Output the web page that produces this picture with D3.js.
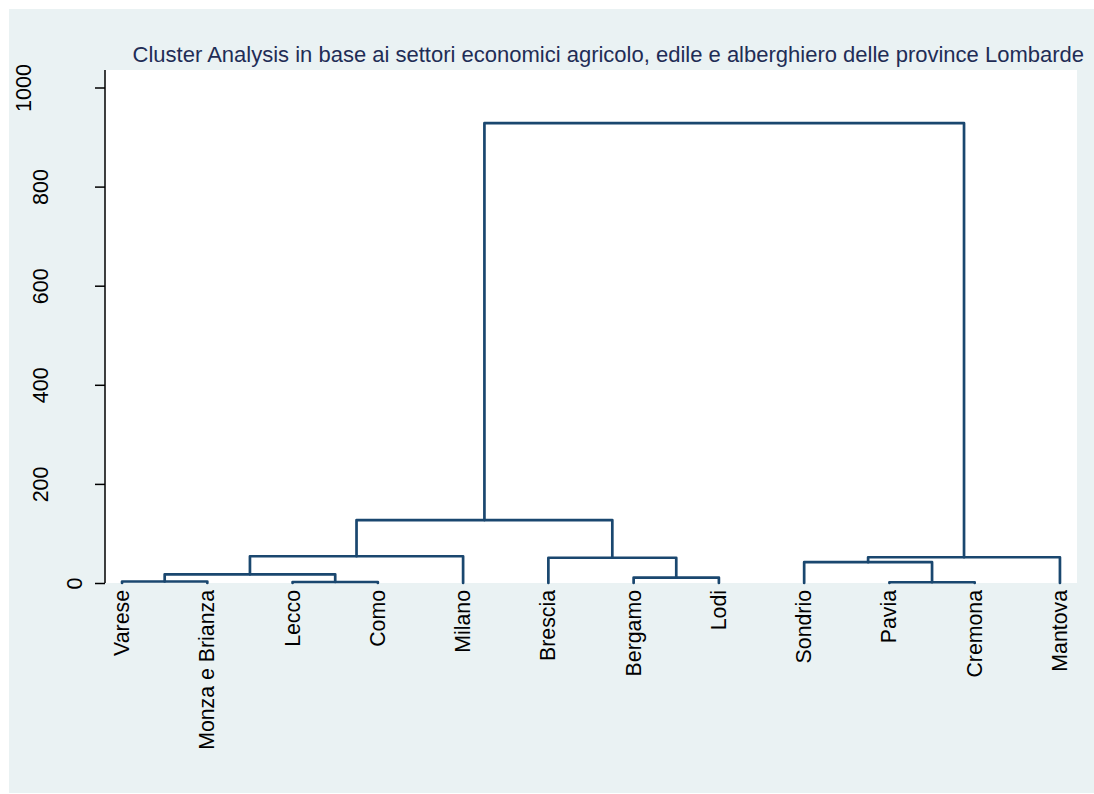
<!DOCTYPE html>
<html>
<head>
<meta charset="utf-8">
<script src="https://cdn.jsdelivr.net/npm/d3@7"></script>
<style>
  body { margin: 0; background: #fff; }
  text { font-family: "Liberation Sans", Arial, sans-serif; }
</style>
</head>
<body>
<div id="chart"></div>
<script>
// leaves in dendrogram order
const provinces = ["Varese", "Monza e Brianza", "Lecco", "Como", "Milano", "Brescia",
                   "Bergamo", "Lodi", "Sondrio", "Pavia", "Cremona", "Mantova"]

// merges: [left, right, new node id, dissimilarity]
const merges = [
  ["Pavia", "Cremona", "n1", 1.5],
  ["Lecco", "Como", "n2", 2],
  ["Varese", "Monza e Brianza", "n3", 3],
  ["Bergamo", "Lodi", "n4", 11],
  ["n3", "n2", "n5", 17.5],
  ["Sondrio", "n1", "n6", 42],
  ["Brescia", "n4", "n7", 51],
  ["n6", "Mantova", "n8", 52],
  ["n5", "Milano", "n9", 54],
  ["n9", "n7", "n10", 127],
  ["n10", "n8", "n11", 928]
]

const yTicks = [0, 200, 400, 600, 800, 1000]
const title = "Cluster Analysis in base ai settori economici agricolo, edile e alberghiero delle province Lombarde"

const W = 1094, H = 794
const plot = { left: 105, right: 1077, top: 70, bottom: 583 }
const lineColor = "#1a476f"

const svg = d3.select("#chart").append("svg")
    .attr("width", W)
    .attr("height", H)

//stata-ish background
svg.append("rect")
    .attr("x", 9).attr("y", 9)
    .attr("width", W - 9).attr("height", H - 10)
    .attr("fill", "#eaf2f3")

svg.append("rect")
    .attr("x", plot.left).attr("y", plot.top)
    .attr("width", plot.right - plot.left).attr("height", plot.bottom - plot.top)
    .attr("fill", "#fff")

const x = d3.scalePoint()
    .domain(provinces)
    .range([plot.left, plot.right])
    .padding(0.2)

const y = d3.scaleLinear()
    .domain([0, 1000])
    .range([583, 87.5])

//y axis
const yAxis = svg.append("g")
    .attr("transform", `translate(${plot.left},0)`)
    .call(d3.axisLeft(y).tickValues(yTicks).tickFormat(d3.format("d")).tickSize(10).tickPadding(0))

yAxis.select(".domain")
    .attr("d", `M0,${plot.top}V${plot.bottom}`)
    .attr("stroke", "#000")
    .attr("stroke-width", 1.5)
yAxis.selectAll(".tick line").attr("stroke", "#000").attr("stroke-width", 1.5)

// labels are vertical, shifted left by their length like stata does
yAxis.selectAll(".tick text")
    .attr("font-size", 21.5)
    .attr("fill", "#000")
    .attr("text-anchor", "middle")
    .attr("dy", null)
    .attr("transform", function(d) {
        const n = String(d).length
        return `translate(${-13 - 17 * n},0) rotate(-90)`
    })
    .attr("x", 0).attr("y", 0)
    .attr("dominant-baseline", "central")

//x labels
svg.append("g")
    .selectAll("text")
    .data(provinces)
    .join("text")
    .attr("transform", d => `translate(${x(d)},${plot.bottom + 7}) rotate(-90)`)
    .attr("text-anchor", "end")
    .attr("dominant-baseline", "central")
    .attr("font-size", 21.3)
    .attr("fill", "#000")
    .text(d => d)

//dendrogram nodes
const nodes = {}
provinces.forEach(p => nodes[p] = { x: x(p), h: 0 })
merges.forEach(([a, b, id, h]) => {
    nodes[id] = { x: (nodes[a].x + nodes[b].x) / 2, h: h, a: a, b: b }
})

svg.append("g")
    .selectAll("path")
    .data(merges)
    .join("path")
    .attr("d", ([a, b, id, h]) => {
        const p = d3.path()
        p.moveTo(nodes[a].x, y(nodes[a].h))
        p.lineTo(nodes[a].x, y(h))
        p.lineTo(nodes[b].x, y(h))
        p.lineTo(nodes[b].x, y(nodes[b].h))
        return p.toString()
    })
    .attr("fill", "none")
    .attr("stroke", lineColor)
    .attr("stroke-width", 2.7)
    .attr("stroke-linejoin", "round")
    .attr("stroke-linecap", "round")

svg.append("text")
    .attr("x", 1084)
    .attr("y", 62)
    .attr("text-anchor", "end")
    .attr("font-size", 22)
    .attr("fill", "#1f2d56")
    .text(title)
</script>
</body>
</html>
